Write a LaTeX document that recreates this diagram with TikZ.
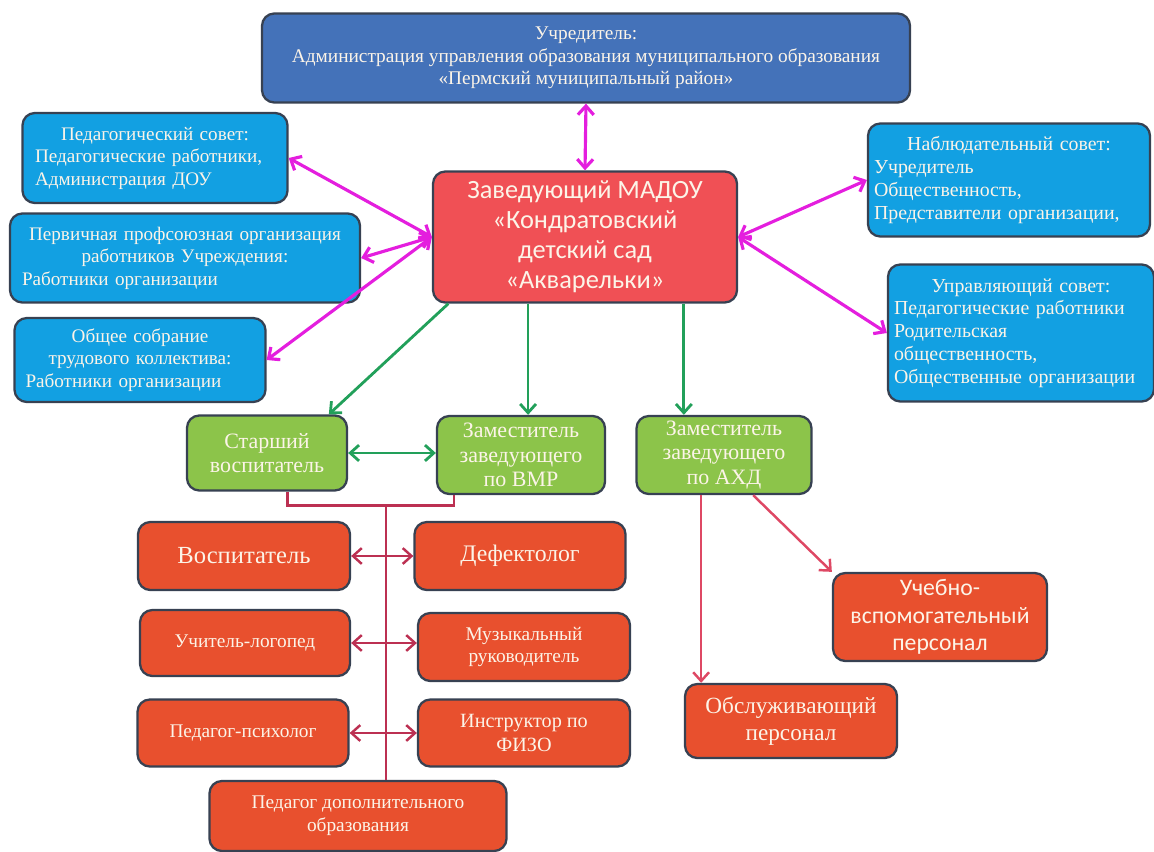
\documentclass[tikz,border=0pt]{standalone}
\usepackage{fontspec}
\setmainfont{Liberation Serif}
\newfontfamily\calfont{Carlito}
\usetikzlibrary{arrows.meta}

\definecolor{uchrblue}{RGB}{68,114,185}
\definecolor{sovblue}{RGB}{18,160,226}
\definecolor{headred}{RGB}{240,80,85}
\definecolor{zamgreen}{RGB}{140,196,74}
\definecolor{staffred}{RGB}{232,80,46}
\definecolor{boxline}{RGB}{55,65,82}
\definecolor{boxtext}{RGB}{252,244,232}
\definecolor{linkmag}{RGB}{228,30,222}
\definecolor{linkgreen}{RGB}{34,160,90}
\definecolor{linkcrim}{RGB}{188,48,82}
\definecolor{linkpink}{RGB}{222,72,100}

\newlength\pxu
\setlength\pxu{0.02cm}
\newcommand{\midline}[1]{\makebox[\hsize][c]{#1}}

\begin{document}
\begin{tikzpicture}[x=0.02cm,y=-0.02cm,
	dims/.style 2 args={minimum width=#1\pxu, minimum height=#2\pxu},
	box/.style={draw=boxline, line width=1.3pt, rounded corners=7pt, text=boxtext, inner sep=1pt, align=center},
	topbox/.style={box, fill=uchrblue, font=\fontsize{11}{12.8}\selectfont},
	headbox/.style={box, fill=headred, font=\calfont\fontsize{15}{17}\selectfont},
	sovbox/.style={box, fill=sovblue, align=left, font=\fontsize{10.9}{12.8}\selectfont},
	zambox/.style={box, fill=zamgreen, font=\fontsize{12.5}{14}\selectfont},
	staffbox/.style={box, fill=staffred, font=\fontsize{11}{13}\selectfont},
	barbs/.style={{Straight Barb[length=5pt,width=9pt]}-{Straight Barb[length=5pt,width=9pt]}},
	magarrow/.style={linkmag, line width=1.8pt, barbs},
	grnarrow/.style={linkgreen, line width=1.6pt, -{Straight Barb[length=5pt,width=9pt]}},
	crimline/.style={linkcrim, line width=1.4pt},
	pinkarrow/.style={linkpink, line width=1.4pt, -{Straight Barb[length=5pt,width=9pt]}}]
	\useasboundingbox (0,0) rectangle (1154,852);
	%upper part
	\node[topbox, dims={648}{89}] (uchr) at (586,58) {Учредитель:\\Администрация управления образования муниципального образования\\«Пермский муниципальный район»};
	\node[headbox, dims={304}{131}] (head) at (585,237) {Заведующий МАДОУ\\«Кондратовский\\детский сад\\«Акварельки»};
	%
	\node[sovbox, dims={265}{90}, text width=240\pxu] (pedsov) at (155,158) {\midline{Педагогический совет:}\\Педагогические работники,\\Администрация ДОУ};
	\node[sovbox, dims={350}{89}, text width=326\pxu] (profsoyuz) at (185,258) {\midline{Первичная профсоюзная организация}\\\midline{работников Учреждения:}\\Работники организации};
	\node[sovbox, dims={251}{84}, text width=229\pxu] (sobranie) at (140,360) {\midline{Общее собрание}\\\midline{трудового коллектива:}\\Работники организации};
	\node[sovbox, dims={282}{113}, text width=270\pxu, font=\fontsize{11.3}{13}\selectfont] (nabl) at (1009,180) {\midline{Наблюдательный совет:}\\Учредитель\\Общественность,\\Представители организации,};
	\node[sovbox, dims={266}{137}, text width=254\pxu, font=\fontsize{11.3}{13}\selectfont] (upr) at (1021,333) {\midline{Управляющий совет:}\\Педагогические работники\\Родительская\\общественность,\\Общественные организации};
	%deputies
	\node[zambox, dims={160}{75}] (starsh) at (267,453) {Старший\\воспитатель};
	\node[zambox, dims={168}{78}] (vmr) at (521,455) {Заместитель\\заведующего\\по ВМР};
	\node[zambox, dims={175}{78}] (ahd) at (724,455) {Заместитель\\заведующего\\по АХД};
	%staff
	\node[staffbox, dims={212}{68}, font=\fontsize{14}{16}\selectfont] (vosp) at (244,556) {Воспитатель};
	\node[staffbox, dims={211}{68}, font=\fontsize{13.5}{16}\selectfont] (defekt) at (520,556) {Дефектолог};
	\node[staffbox, dims={210}{66}] (logoped) at (245,643) {Учитель-логопед};
	\node[staffbox, dims={212}{68}] (muz) at (524,647) {Музыкальный\\руководитель};
	\node[staffbox, dims={211}{67}] (psiholog) at (243,733) {Педагог-психолог};
	\node[staffbox, dims={212}{67}, font=\fontsize{11.5}{13.5}\selectfont] (fizo) at (524,733) {Инструктор по\\ФИЗО};
	\node[staffbox, dims={297}{70}] (dopobr) at (358,816) {Педагог дополнительного\\образования};
	\node[staffbox, dims={214}{88}, font=\calfont\fontsize{13.5}{15.5}\selectfont] (uchebno) at (940,617) {Учебно-\\вспомогательный\\персонал};
	\node[staffbox, dims={212}{74}, font=\fontsize{13.2}{15.5}\selectfont] (obsl) at (791,721) {Обслуживающий\\персонал};
	%links
	\draw[magarrow] (uchr.south) -- (head.north);
	\draw[magarrow] (head.west) -- (pedsov.east);
	\draw[magarrow] (head.west) -- (profsoyuz.east);
	\draw[magarrow] (head.west) -- (sobranie.east);
	\draw[magarrow] (head.east) -- (nabl.west);
	\draw[magarrow] (head.east) -- (upr.west);
	%
	\draw[grnarrow] (head.206) -- (starsh.32);
	\draw[grnarrow] (head.south -| vmr.80) -- (vmr.80);
	\draw[grnarrow] (head.south -| ahd.135) -- (ahd.135);
	\draw[grnarrow, barbs] (starsh.east) -- (starsh.east -| vmr.west);
	%
	\draw[crimline] (starsh.-62) -- ++(0,14) -| (vmr.211);
	\coordinate (junction) at (dopobr.52 |- 0,505);
	\draw[crimline] (junction) -- (dopobr.52);
	\draw[crimline, barbs] (vosp.east) -- (defekt.west);
	\draw[crimline, barbs] (logoped.east) -- (logoped.east -| muz.west);
	\draw[crimline, barbs] (psiholog.east) -- (fizo.west);
	%
	\draw[pinkarrow] (ahd.south -| obsl.157) -- (obsl.157);
	\draw[pinkarrow] (ahd.-54) -- (uchebno.north west);
\end{tikzpicture}
\end{document}
